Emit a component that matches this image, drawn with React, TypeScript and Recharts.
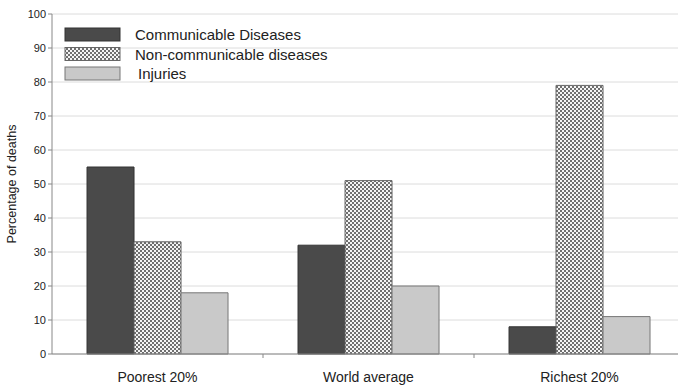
import { BarChart, Bar, XAxis, YAxis, CartesianGrid } from 'recharts';

const categories = ['Poorest 20%', 'World average', 'Richest 20%'];
const communicable = [55, 32, 8];
const nonCommunicable = [33, 51, 79];
const injuries = [18, 20, 11];
const yTicks = [0, 10, 20, 30, 40, 50, 60, 70, 80, 90, 100];

const data = categories.map((c, i) => ({
  name: c,
  communicable: communicable[i],
  nonCommunicable: nonCommunicable[i],
  injuries: injuries[i],
}));

const FONT = '"Liberation Sans", Arial, sans-serif';

const legendItems = [
  { label: 'Communicable Diseases', fill: '#4a4a4a', stroke: '#333', dx: 0 },
  { label: 'Non-communicable diseases', fill: 'url(#checker)', stroke: '#666', dx: 0 },
  { label: 'Injuries', fill: '#c9c9c9', stroke: '#777', dx: 3 },
];

function XTick(props: any) {
  const { x, y, payload, index } = props;
  const half = payload?.offset || 105.5;
  return (
    <g>
      <text x={x} y={y + 20} textAnchor="middle" fontSize={14} fill="#222" fontFamily={FONT}>
        {payload.value}
      </text>
      {index < categories.length - 1 && (
        <line x1={x + half} x2={x + half} y1={y - 8} y2={y - 4} stroke="#888" />
      )}
    </g>
  );
}

export default function App() {
  return (
    <div style={{ position: 'absolute', left: 0, top: 0, width: 678, height: 386, overflow: 'hidden', background: '#fff' }}>
      <svg width={0} height={0} style={{ position: 'absolute' }}>
        <defs>
          <pattern id="checker" width={4} height={4} patternUnits="userSpaceOnUse">
            <rect width={4} height={4} fill="#6f6f6f" />
            <rect x={0} y={0} width={2} height={2} fill="#f4f4f4" />
            <rect x={2} y={2} width={2} height={2} fill="#f4f4f4" />
          </pattern>
        </defs>
      </svg>
      <BarChart
        width={685}
        height={386}
        data={data}
        margin={{ top: 14, right: 0, left: 0, bottom: 0 }}
        barCategoryGap="16.6%"
        barGap={0}
      >
        <CartesianGrid vertical={false} stroke="#dcdcdc" />
        <XAxis
          dataKey="name"
          height={32}
          tickLine={false}
          axisLine={{ stroke: '#888' }}
          tick={<XTick />}
          interval={0}
        />
        <YAxis
          width={52}
          domain={[0, 100]}
          ticks={yTicks}
          interval={0}
          axisLine={{ stroke: '#888' }}
          tickLine={{ stroke: '#888' }}
          tickSize={4}
          tick={{ fontSize: 11, fill: '#222', fontFamily: FONT }}
          label={{
            value: 'Percentage of deaths',
            angle: -90,
            position: 'insideLeft',
            offset: 12,
            style: { fontSize: 12.5, fill: '#222', fontFamily: FONT, textAnchor: 'middle' },
          }}
        />
        <Bar dataKey="communicable" fill="#4a4a4a" stroke="#333" isAnimationActive={false} />
        <Bar dataKey="nonCommunicable" fill="url(#checker)" stroke="#666" isAnimationActive={false} />
        <Bar dataKey="injuries" fill="#c9c9c9" stroke="#777" isAnimationActive={false} />
      </BarChart>
      <svg width={360} height={90} style={{ position: 'absolute', left: 0, top: 0 }}>
        {legendItems.map((it, i) => (
          <g key={it.label}>
            <rect x={65} y={28 + i * 19.5} width={55} height={13} fill={it.fill} stroke={it.stroke} />
            <text x={135 + it.dx} y={40 + i * 19.5} fontSize={15} fill="#222" fontFamily={FONT}>
              {it.label}
            </text>
          </g>
        ))}
      </svg>
    </div>
  );
}
